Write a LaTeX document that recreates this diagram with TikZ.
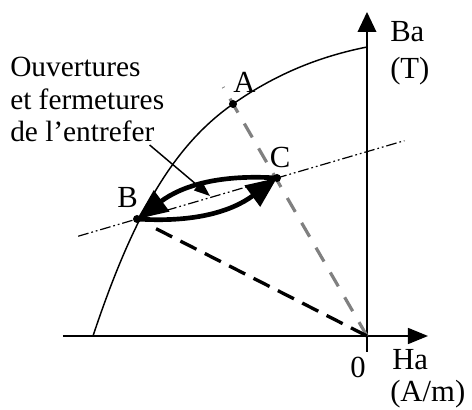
\documentclass[tikz,border=0pt]{standalone}
\usepackage{fontspec}
\setmainfont{Liberation Serif}
\usepackage{xcolor}
\usepackage{tikz}
\usetikzlibrary{positioning,calc,arrows.meta}
\definecolor{dashgray}{HTML}{808080}
\tikzset{
  lbl/.style={font=\fontsize{23}{28}\selectfont, inner sep=0pt},
  notetext/.style={font=\fontsize{22}{26}\selectfont, inner sep=0pt, anchor=base west},
}

\begin{document}
\begin{tikzpicture}[x=0.75pt, y=0.75pt]
\useasboundingbox (-367,-74) rectangle (105,336);
% axes
\coordinate (O) at (0,0);
\coordinate (xl) at (-304,0);
\coordinate (xr) at (61,0);
\coordinate (yb) at (0,-16);
\coordinate (yt) at (0,324);
\draw[line width=1.1pt, -{Triangle[length=15pt,width=12pt]}] (xl) -- (xr);
\draw[line width=1.1pt, -{Triangle[length=15pt,width=14pt]}] (yb) -- (yt);
\node[lbl, anchor=base west] (ba) at (23,294) {Ba};
\node[lbl, anchor=base west] (tesla) at (23,257) {(T)};
\node[lbl, anchor=base west] (ha) at (25,-34) {Ha};
\node[lbl, anchor=base west] (ampm) at (23,-66) {(A/m)};
\node[lbl, anchor=base] (zero) at (-9,-42) {0};

% points
\coordinate (A) at (-134,232);
\coordinate (B) at (-230,117);
\coordinate (C) at (-90,158);

% magnetisation curve
\coordinate (cstart) at (-274,0);
\coordinate (cend) at (0,289);
\draw[line width=1.1pt] (cstart) .. controls (-234,120) and (-194,190) .. (A)
  .. controls (-89,263.5) and (-45,280) .. (cend);

% load lines
\draw[line width=0.9pt, dash pattern=on 8pt off 2.2pt on 1.3pt off 2.2pt on 1.3pt off 2.2pt] ($(B)!-0.42!(C)$) -- ($(B)!1.91!(C)$);
\draw[dashgray, line width=2.4pt, dash pattern=on 12pt off 9.5pt] (O) -- ($(O)!1.073!(A)$);
\draw[line width=2.5pt, dash pattern=on 13.5pt off 7pt] (O) -- ($(O)!0.917!(B)$);

% air gap cycle
\draw[line width=3.5pt, -{Triangle[length=23pt,width=19pt]}] (C) to[bend right=20] (B);
\draw[line width=3.5pt, -{Triangle[length=23pt,width=19pt]}] (B) to[bend right=20] (C);

\fill (A) circle[radius=3pt];
\fill (B) circle[radius=3pt];
\fill (C) circle[radius=3pt];
\node[lbl, anchor=base west] (labA) at ($(A)+(0,11)$) {A};
\node[lbl, anchor=base] (labB) at ($(B)+(-9.5,11)$) {B};
\node[lbl, anchor=base] (labC) at ($(C)+(3,10)$) {C};

% annotation
\node[notetext] (ouv) at (-357,259) {Ouvertures};
\node[notetext] (ferm) at (-357,226) {et fermetures};
\node[notetext] (entref) at (-357,194) {de l'entrefer};
\coordinate (ptrstart) at ($(entref.base east)+(-5,-3)$);
\coordinate (ptrtip) at (-157,140);
\draw[line width=1.1pt, -{Triangle[length=12pt,width=9pt]}] (ptrstart) -- (ptrtip);
\end{tikzpicture}
\end{document}
